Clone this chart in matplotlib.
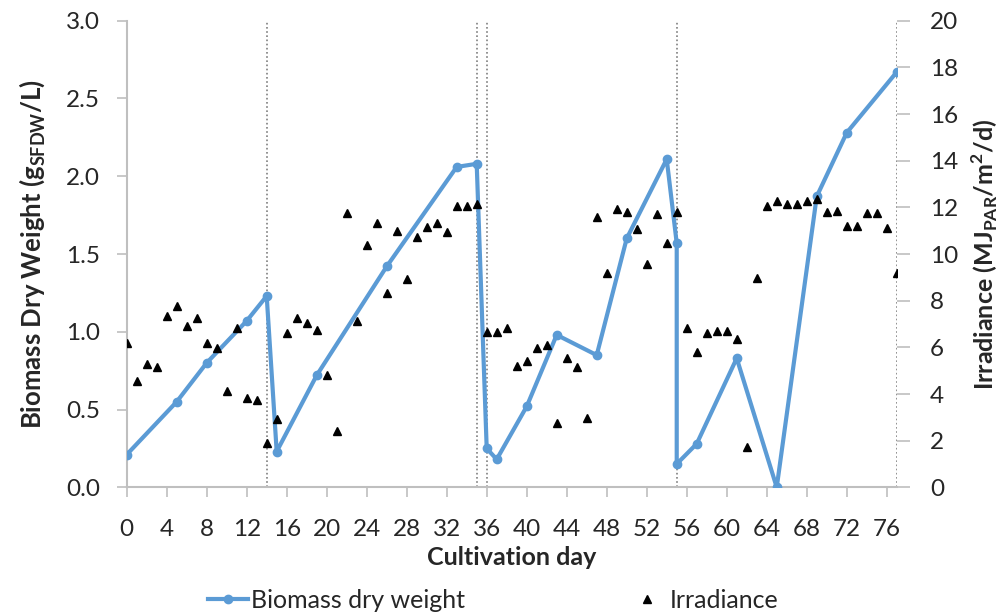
import matplotlib
matplotlib.use("Agg")
import matplotlib.pyplot as plt
import numpy as np

plt.rcParams['font.family'] = ['Lato', 'DejaVu Sans']
plt.rcParams['mathtext.fontset'] = 'custom'
plt.rcParams['mathtext.rm'] = 'Lato'
plt.rcParams['mathtext.bf'] = 'Lato:bold'

# biomass dry weight (g/L)
bio_day = [0, 5, 8, 12, 14, 15, 19, 26, 33, 35, 36, 37, 40, 43, 47, 50,
           54, 55, 55, 57, 61, 65, 69, 72, 77]
bio_dw = [0.21, 0.55, 0.80, 1.07, 1.23, 0.23, 0.72, 1.42, 2.06, 2.08, 0.25,
          0.18, 0.52, 0.98, 0.85, 1.60, 2.11, 1.57, 0.15, 0.28, 0.83, 0.0,
          1.87, 2.28, 2.67]

# daily irradiance (MJ/m2/d), days 0..77
irr = [6.17, 4.56, 5.28, 5.17, 7.36, 7.77, 6.93, 7.24, 6.20, 5.98,
       4.13, 6.84, 3.81, 3.74, 1.89, 2.91, 6.60, 7.27, 7.06, 6.74,
       4.81, 2.41, 11.77, 7.13, 10.39, 11.32, 8.34, 11.0, 8.92, 10.75,
       11.17, 11.31, 10.96, 12.07, 12.07, 12.13, 6.64, 6.64, 6.84, 5.20,
       5.41, 5.96, 6.10, 2.74, 5.53, 5.17, 2.96, 11.57, 9.17, 11.93,
       11.81, 11.07, 9.56, 11.70, 10.48, 11.81, 6.84, 5.81, 6.60, 6.71,
       6.70, 6.34, 1.74, 8.96, 12.07, 12.27, 12.13, 12.13, 12.27, 12.34,
       11.81, 11.84, 11.21, 11.21, 11.74, 11.77, 11.10, 9.17]
irr_day = np.arange(len(irr))

# harvest / restart days (dotted lines)
cut_days = [14, 35, 36, 55, 77]

blue = '#5B9BD5'
grey = '#BFBFBF'
txt = '#262626'

fig = plt.figure(figsize=(10.07, 6.15), dpi=100)
ax = fig.add_axes([0.1258, 0.2076, 0.7647, 0.7587])
ax2 = ax.twinx()

for d in cut_days:
    ax.axvline(d, color='#7F7F7F', linestyle=(0, (1, 1.5)), linewidth=1.2,
               zorder=1)

ax.plot(bio_day, bio_dw, '-o', color=blue, linewidth=3, markersize=6,
        label='Biomass dry weight', zorder=3)
ax2.plot(irr_day, irr, '^', color='black', markersize=6, linestyle='none',
         label='Irradiance')

ax.set_xlim(0, 77)
ax.set_ylim(0, 3.0)
ax2.set_ylim(0, 20)
ax.set_xticks(np.arange(0, 77, 4))
ax.set_yticks(np.arange(0, 3.01, 0.5))
ax.set_yticklabels(['{:.1f}'.format(v) for v in np.arange(0, 3.01, 0.5)])
ax2.set_yticks(np.arange(0, 21, 2))

for a in (ax, ax2):
    a.spines['top'].set_visible(False)
    a.spines['right'].set_visible(False)
    a.spines['left'].set_color(grey)
    a.spines['bottom'].set_color(grey)
    a.spines['left'].set_linewidth(1.5)
    a.spines['bottom'].set_linewidth(1.5)
    a.tick_params(colors=grey, labelcolor=txt, labelsize=17.5, length=7,
                  width=1.2)
ax2.spines['left'].set_visible(False)
ax2.spines['bottom'].set_visible(False)
ax.tick_params(axis='x', pad=16)
ax.tick_params(axis='y', pad=12)
ax2.tick_params(axis='y', pad=15, length=9)

ax.set_xlabel('Cultivation day', fontsize=18, fontweight='bold', color=txt,
              labelpad=4)
ax.set_ylabel(r'Biomass Dry Weight (g$_{\mathbf{SFDW}}$/L)', fontsize=18.5,
              fontweight='bold', color=txt, labelpad=14)
ax2.set_ylabel(r'Irradiance (MJ$_{\mathbf{PAR}}$/m$^{\mathbf{2}}$/d)',
               fontsize=18, fontweight='bold', color=txt, labelpad=8)

h1, l1 = ax.get_legend_handles_labels()
h2, l2 = ax2.get_legend_handles_labels()
fig.legend(h1 + h2, l1 + l2, loc='lower center', ncol=2, frameon=False,
           fontsize=18, bbox_to_anchor=(0.49, -0.032), columnspacing=6.5,
           handlelength=1.6, handletextpad=0.1, labelcolor=txt)

fig.savefig('out.png', dpi=100)
